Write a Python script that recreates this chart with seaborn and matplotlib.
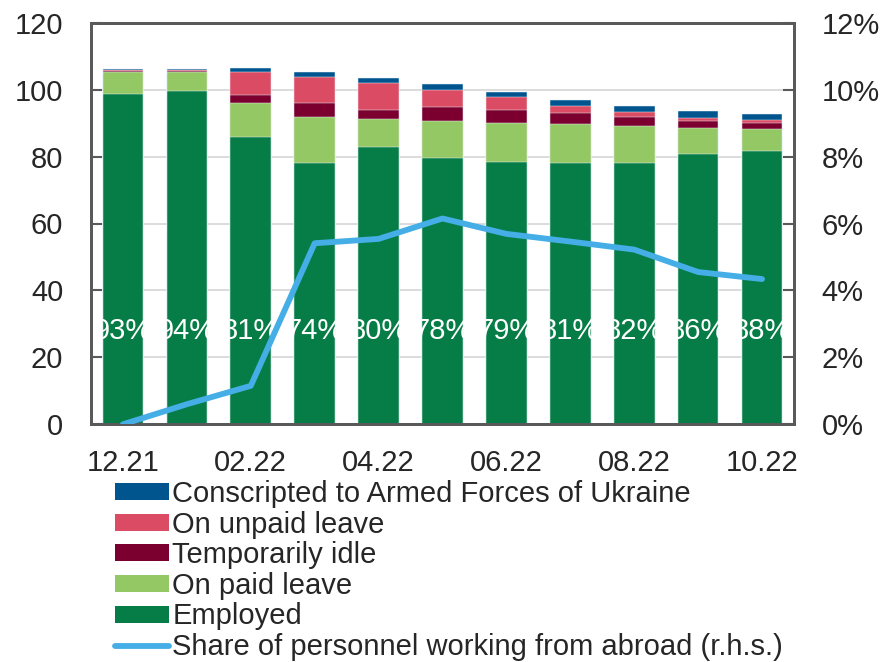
import numpy as np
import pandas as pd
import seaborn as sns
import matplotlib.pyplot as plt
from matplotlib.patches import Patch
from matplotlib.lines import Line2D
from matplotlib.ticker import MultipleLocator, FuncFormatter

months = ["12.21", "01.22", "02.22", "03.22", "04.22", "05.22",
          "06.22", "07.22", "08.22", "09.22", "10.22"]
employed = [98.8, 99.7, 85.8, 78.2, 83.0, 79.7, 78.5, 78.2, 78.1, 80.7, 81.8]
paid_leave = [6.6, 5.5, 10.3, 13.6, 8.2, 10.9, 11.4, 11.5, 11.0, 7.9, 6.3]
idle = [0.3, 0.3, 2.2, 4.2, 2.6, 4.1, 3.9, 3.2, 2.6, 2.1, 1.9]
unpaid_leave = [0.3, 0.3, 7.0, 7.7, 8.1, 5.2, 3.9, 2.3, 1.5, 0.9, 0.8]
conscripted = [0.3, 0.3, 1.1, 1.6, 1.6, 1.7, 1.6, 1.6, 1.8, 2.0, 1.8]
abroad_share = [0.0, 0.6, 1.15, 5.41, 5.54, 6.15, 5.69, 5.46, 5.22, 4.55, 4.34]
employed_pct = ["93%", "94%", "81%", "74%", "80%", "78%", "79%", "81%", "82%", "86%", "88%"]

series = [
    ("Employed", employed, "#067D46"),
    ("On paid leave", paid_leave, "#94C864"),
    ("Temporarily idle", idle, "#7B0030"),
    ("On unpaid leave", unpaid_leave, "#DC4B64"),
    ("Conscripted to Armed Forces of Ukraine", conscripted, "#00558F"),
]
line_color = "#45AEE6"

df = pd.DataFrame({"month": months})
running = np.zeros(len(months))
for name, vals, _ in series:
    running = running + np.array(vals)
    df[name] = running

sns.set_style("white")
plt.rcParams["font.family"] = ["Liberation Sans", "DejaVu Sans"]
fs = 21

fig = plt.figure(figsize=(8.95, 6.62), dpi=100)
ax = fig.add_axes([91 / 895, 1 - 424.3 / 662, (794 - 91) / 895, (424.3 - 22.7) / 662])

# stacked bars: draw cumulative totals from the top layer down
for name, vals, color in reversed(series):
    sns.barplot(data=df, x="month", y=name, color=color, width=0.635,
                saturation=1, edgecolor="#E8F0F4", linewidth=0.35, ax=ax, zorder=2)

for i, lab in enumerate(employed_pct):
    ax.text(i, 28, lab, color="white", ha="center", va="center", fontsize=fs, zorder=3)

ax.set_ylim(0, 120)
ax.set_xlim(-0.5, len(months) - 0.5)
ax.yaxis.set_major_locator(MultipleLocator(20))
ax.grid(axis="y", color="#D9D9D9", linewidth=1.3, zorder=0)
ax.set_axisbelow(True)
ax.set_xlabel("")
ax.set_ylabel("")
ax.set_xticks(range(0, len(months), 2))
ax.set_xticklabels(months[::2])
ax.set_xticks(np.arange(0.5, len(months) - 1, 1), minor=True)
ax.tick_params(axis="x", which="major", length=0, pad=18, labelsize=fs)
ax.tick_params(axis="x", which="minor", direction="in", length=8, width=1.5, color="#595959")
ax.tick_params(axis="y", direction="in", length=8, width=1.5, color="#595959", labelsize=fs, pad=20)
for sp in ax.spines.values():
    sp.set_color("#595959")
    sp.set_linewidth(2)

ax2 = ax.twinx()
sns.lineplot(x=np.arange(len(months)), y=abroad_share, color=line_color,
             linewidth=4.2, ax=ax2, zorder=4)
ax2.set_ylim(0, 12)
ax2.yaxis.set_major_locator(MultipleLocator(2))
ax2.yaxis.set_major_formatter(FuncFormatter(lambda v, p: f"{v:.0f}%"))
ax2.tick_params(axis="y", direction="in", length=8, width=1.5, color="#595959", labelsize=fs, pad=20)
for sp in ax2.spines.values():
    sp.set_color("#595959")
    sp.set_linewidth(2)

handles = [Patch(facecolor=c, edgecolor="none", label=n) for n, _, c in reversed(series)]
handles.append(Line2D([0], [0], color=line_color, linewidth=4.2,
                      label="Share of personnel working from abroad (r.h.s.)"))
fig.legend(handles=handles, loc="upper left", bbox_to_anchor=(115 / 895, 1 - 480 / 662),
           frameon=False, fontsize=fs, borderpad=0, borderaxespad=0,
           handlelength=1.85, handleheight=0.51, handletextpad=0.12, labelspacing=0.09)

fig.savefig("out.png", dpi=100)
